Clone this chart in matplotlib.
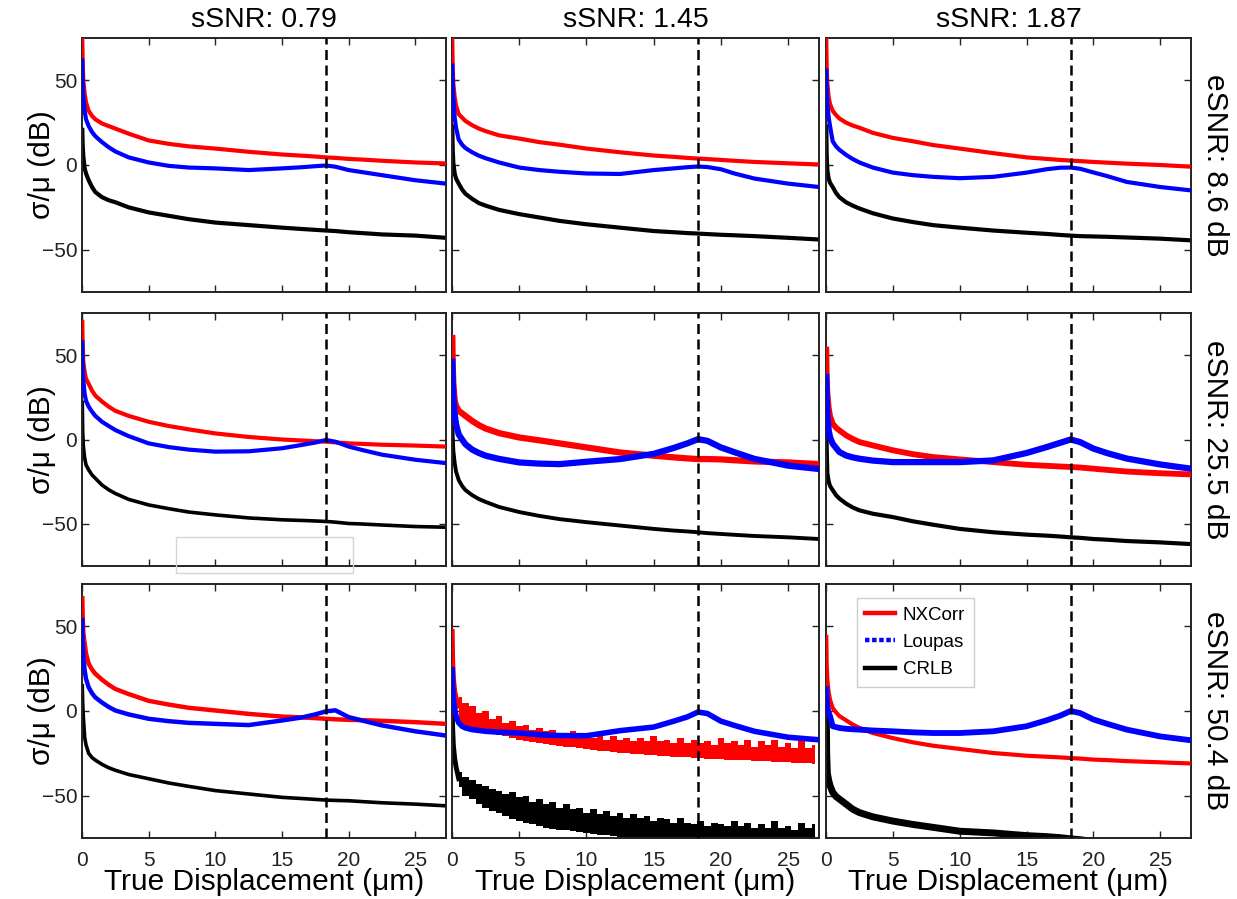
import numpy as np
import matplotlib
matplotlib.use("Agg")
import matplotlib.pyplot as plt
from matplotlib.lines import Line2D
from matplotlib.patches import Rectangle

plt.rcParams['font.family'] = ['Liberation Sans', 'DejaVu Sans']

# ---------------- data ----------------
col_titles = ["sSNR: 0.79", "sSNR: 1.45", "sSNR: 1.87"]
row_labels = ["eSNR: 8.6 dB", "eSNR: 25.5 dB", "eSNR: 50.4 dB"]
x_label = "True Displacement (\u03bcm)"
y_label = "\u03c3/\u03bc (dB)"
x_ticks = [0, 5, 10, 15, 20, 25]
y_ticks = [-50, 0, 50]
marker_x = 18.3
legend_names = ["NXCorr", "Loupas", "CRLB"]

# common displacement grid (um)
X = [0.02, 0.05, 0.1, 0.2, 0.3, 0.5, 0.75, 1, 1.5, 2, 2.5, 3.5, 5, 6.5, 8, 10, 12.5, 15,
     16.5, 17.5, 18.3, 19, 20, 21, 22.5, 25, 27.3]

# row 1 (eSNR 8.6 dB)
nx_r1c1 = [75, 60, 50, 42, 37, 32, 29, 27, 24.5, 23, 21.5, 18.5, 14.5, 12.5, 11, 9.7, 7.8, 6.2,
           5.5, 5, 4.5, 4.2, 3.6, 3.2, 2.5, 1.5, 0.9]
lo_r1c1 = [63, 50, 40, 32, 27, 23, 19.5, 17, 13.5, 10.5, 8, 4.5, 1.5, -0.5, -1.5, -2, -3, -2,
           -1.3, -0.7, -0.3, -1, -3, -4.2, -6, -9, -11]
cr_r1c1 = [22, 12, 5, -2, -5, -9, -13, -16, -19, -20.8, -22, -25, -28, -30, -32, -34, -35.5, -37,
           -37.8, -38.3, -38.7, -39, -39.7, -40.2, -41, -41.7, -43]

nx_r1c2 = [75, 58, 48, 40, 35, 30, 28, 26, 23.5, 21.5, 20, 17.5, 15.6, 13.5, 12, 9.7, 7.5, 5.6,
           4.8, 4.2, 3.8, 3.5, 3, 2.5, 1.8, 1, 0.3]
lo_r1c2 = [60, 50, 40, 28, 22, 15, 12, 10, 7.5, 5.5, 4, 1.5, -1.5, -3, -4, -5, -5.3, -3,
           -2, -1.3, -0.9, -1.2, -2.5, -5, -8, -11, -13]
cr_r1c2 = [24, 10, 1, -5, -8, -11, -14.5, -17, -20, -22.5, -24, -26.5, -29, -31, -33, -35, -37, -39,
           -39.7, -40.2, -40.5, -40.8, -41.2, -41.5, -42, -43, -44]

nx_r1c3 = [75, 58, 48, 40, 36, 32, 29.5, 27.5, 25, 23.3, 22, 19, 16, 14, 11.8, 9.7, 7, 4.5,
           3.6, 3, 2.6, 2.3, 1.8, 1.4, 0.8, 0, -1]
lo_r1c3 = [57, 46, 36, 28, 23, 14, 11, 9, 6, 3.5, 1.5, -1.5, -4.5, -6, -7, -7.8, -7, -4.5,
           -2.5, -1.6, -1.5, -2.2, -4.4, -6.5, -10, -13, -15]
cr_r1c3 = [24, 6, -3, -8, -10.5, -13, -16.5, -19, -22, -24, -25.7, -28.5, -31.6, -33.7, -35.5, -37,
           -38.7, -40, -40.7, -41.3, -41.7, -42, -42.2, -42.4, -42.8, -43.5, -44.5]

# row 2 (eSNR 25.5 dB)
nx_r2c1 = [71, 56, 46, 40, 36, 33, 29, 26, 22.5, 19.5, 17, 14, 10.5, 8, 6, 3.6, 1.5, 0,
           -0.6, -1, -1.3, -1.7, -2.3, -2.6, -3.1, -3.6, -4.2]
lo_r2c1 = [59, 45, 35, 27, 23, 19.5, 16.5, 14, 10.5, 8, 5.6, 2, -2.3, -4.5, -6, -7.2, -7, -5.2,
           -3.2, -1.8, -0.3, -1.3, -4.2, -6.2, -9, -12, -14]
cr_r2c1 = [23, 5, -4, -11, -15, -18, -21, -23, -27, -29.8, -32, -35.5, -38.8, -41, -43, -44.7, -46.5,
           -47.6, -48, -48.3, -48.6, -49, -49.8, -50.1, -50.7, -51.6, -52]

nx_r2c2 = [62, 45, 33, 23, 20, 17, 15.5, 14, 11, 8.5, 6.5, 3.8, 1.2, -0.5, -2.3, -4.7, -7.7, -9.6,
           -10.6, -11.2, -11.6, -11.6, -11.8, -12.3, -13, -13.6, -14.6]
lo_r2c2 = [48, 35, 25, 15, 9, 3, 0, -2.8, -6, -8, -9.6, -11.5, -13.6, -14.3, -14.6, -13.2, -11.6, -8.5,
           -5, -2.3, 0.2, -0.8, -4.7, -7.5, -11.5, -15.5, -17.5]
cr_r2c2 = [13, 2, -6.7, -14, -19, -24, -27.5, -30, -33, -35.3, -37, -40, -43, -45.3, -47.2, -49, -51,
           -53, -54, -54.5, -55, -55.5, -56, -56.5, -57.2, -58, -59]

nx_r2c3 = [55, 38, 28, 19, 14, 9.4, 7, 5.4, 2.5, 0.3, -1.5, -3.5, -6.4, -8.7, -10.4, -11.8, -13.4, -15,
           -15.6, -16, -16.3, -16.6, -17.3, -18, -19, -20, -20.7]
lo_r2c3 = [39, 25, 15, 5.4, 1.5, -2.5, -5, -7.4, -9.5, -10.6, -11.4, -12.5, -13.4, -13.4, -13.4, -13.4,
           -12.4, -8, -4.5, -2, 0, -1.5, -5.4, -8, -11.3, -14.8, -17.3]
cr_r2c3 = [20, -5, -20, -25, -27.5, -30, -33, -35, -38, -40.3, -42, -44, -46, -48.5, -50.5, -53, -55,
           -56.4, -57, -57.5, -58, -58.3, -59, -59.4, -60.2, -61, -62]

# row 3 (eSNR 50.4 dB)
nx_r3c1 = [68, 56, 46, 40, 34, 28, 24.5, 22, 18.5, 15.5, 13, 10, 6, 3.8, 1.9, 0.3, -1.7, -3.3,
           -3.8, -4.2, -4.6, -4.9, -5.2, -5.4, -5.8, -6.6, -7.6]
lo_r3c1 = [55, 42, 32, 24, 19, 14, 10.5, 8, 5, 2.4, 0.3, -2, -4.6, -6, -7, -7.6, -8.3, -5.6,
           -3.8, -2, -0.2, 0.4, -3.6, -5.6, -8.5, -12, -14.5]
cr_r3c1 = [16, 5, -3.6, -15.5, -20, -25, -27.5, -29, -31.5, -33.5, -35, -37.5, -40, -42.5, -44.5, -47,
           -49, -51, -51.7, -52.2, -52.6, -52.8, -53, -53.5, -54.2, -55, -56]

lo_r3c2 = [26, 15, 8, 1, -3, -7, -9, -10, -11, -11.5, -12, -12.5, -13, -14, -14.5, -14.6, -11.6, -9.5,
           -6, -3.5, -0.6, -1.5, -6, -8.5, -12, -15.5, -17]

nx_r3c3 = [45, 28, 18.5, 11, 6.7, 1.8, -0.8, -3, -5.5, -8, -10, -13, -16, -18.5, -20.5, -22.4, -24.8,
           -26.4, -27, -27.4, -27.8, -28.1, -28.7, -29, -29.6, -30.3, -31]
lo_r3c3 = [14.6, 6, 2, -1, -3, -9, -9.5, -10, -10.5, -10.8, -11, -11.5, -12, -12.6, -13, -13, -12, -9,
           -5.5, -2.8, 0, -1.2, -5, -7.5, -11, -15, -17.3]
cr_r3c3 = [3, -25, -36.6, -41, -44, -48, -50.5, -52, -55, -58, -60, -62.5, -65, -67, -68.7, -71, -72,
           -73.6, -74.2, -74.8, -75.5, -76, -77, -77.5, -78.2, -79, -80]

# row 3, column 2: jagged (quantised) NXCorr and CRLB estimates
XH = [0.02, 0.05, 0.1, 0.2, 0.3, 0.5]
nx_r3c2_head = [47, 30, 20, 12, 8, 3]
cr_r3c2_head = [-1, -10, -20, -28, -33, -40]
XJ = np.arange(0.5, 27.01, 0.5)
nx_r3c2_top = [8, 5, 3, -1, 0, -5, -3, -7, -6, -9, -8, -11, -10, -12, -11, -13, -14, -12, -15, -14,
               -16, -15, -17, -15, -17, -16, -18, -16, -18, -15, -18, -17, -19, -16, -19, -17, -19, -18,
               -20, -16, -19, -18, -20, -17, -21, -18, -20, -17, -21, -19, -22, -18, -22, -20]
nx_r3c2_bot = [-8, -9, -10, -11, -12, -13, -14, -15, -16, -17, -17.6, -18.2, -18.8, -19.4, -20, -20.5,
               -21, -21.5, -22, -22.5, -23, -23.4, -23.8, -24.2, -24.6, -25, -25.3, -25.6, -25.9, -26.2,
               -26.5, -26.8, -27, -27.2, -27.4, -27.7, -28, -28.2, -28.4, -28.6, -28.8, -29, -29.1,
               -29.2, -29.4, -29.6, -29.8, -30, -30.2, -30.4, -30.6, -30.8, -31, -31.2]
cr_r3c2_top = [-36, -39, -41, -43, -44, -46, -47, -49, -48, -51, -50, -54, -52, -55, -54, -57, -55, -58,
               -57, -60, -58, -61, -59, -62, -60, -63, -61, -63, -62, -65, -63, -64, -66, -63, -66, -67,
               -65, -68, -66, -67, -68, -65, -68, -66, -69, -67, -69, -65, -69, -68, -70, -66, -69, -67]
cr_r3c2_bot = [-45, -50, -52, -55, -57, -59, -60.5, -62, -63.5, -65, -66, -67, -68, -69, -69.5, -70,
               -70.5, -71, -71.5, -72, -72.5, -73, -73.5, -74, -75, -76, -77, -78, -80, -80, -80, -80,
               -80, -80, -80, -80, -80, -80, -80, -80, -80, -80, -80, -80, -80, -80, -80, -80, -80, -80,
               -80, -80, -80, -80]

# ---------------- figure ----------------
RED = '#ff0000'
BLUE = '#0000ff'
BLACK = '#000000'

fig = plt.figure(figsize=(12.37, 8.99), dpi=100)
W, H = 1237.0, 899.0
col_px = [(82, 446), (452, 819), (826, 1191)]
row_px = [(38, 292), (313, 566), (584, 838)]

smooth = {
    (0, 0): (nx_r1c1, lo_r1c1, cr_r1c1), (0, 1): (nx_r1c2, lo_r1c2, cr_r1c2), (0, 2): (nx_r1c3, lo_r1c3, cr_r1c3),
    (1, 0): (nx_r2c1, lo_r2c1, cr_r2c1), (1, 1): (nx_r2c2, lo_r2c2, cr_r2c2), (1, 2): (nx_r2c3, lo_r2c3, cr_r2c3),
    (2, 0): (nx_r3c1, lo_r3c1, cr_r3c1), (2, 1): (None, lo_r3c2, None), (2, 2): (nx_r3c3, lo_r3c3, cr_r3c3),
}
lw_rows = [
    {0: (3.0, 3.0, 3.0), 1: (3.0, 3.0, 3.0), 2: (3.0, 3.0, 3.0)},
    {0: (3.0, 3.0, 2.6), 1: (4.5, 4.5, 2.8), 2: (4.2, 4.5, 3.0)},
    {0: (3.2, 3.2, 2.6), 1: (3.0, 4.0, 3.0), 2: (3.0, 4.2, 5.0)},
]

axes = {}
for r in range(3):
    for c in range(3):
        x0, x1 = col_px[c]
        y0, y1 = row_px[r]
        ax = fig.add_axes([x0 / W, 1 - y1 / H, (x1 - x0) / W, (y1 - y0) / H])
        axes[(r, c)] = ax
        ax.set_xlim(0, 27.3)
        ax.set_ylim(-75, 75)
        ax.set_xticks(x_ticks)
        ax.set_yticks(y_ticks)
        ax.tick_params(direction='in', length=5, width=1.0, top=True, right=True,
                       labelsize=15, colors='#222222', pad=3.5)
        ax.tick_params(axis='x', pad=9)
        for s in ax.spines.values():
            s.set_linewidth(1.4)
            s.set_color('#222222')
        if c != 0:
            ax.set_yticklabels([])
        if r != 2:
            ax.set_xticklabels([])

        lws = lw_rows[r][c]
        nx, lo, cr = smooth[(r, c)]
        if cr is not None:
            ax.plot(X, cr, color=BLACK, lw=lws[2], solid_capstyle='butt', solid_joinstyle='round', zorder=2)
        if nx is not None:
            ax.plot(X, nx, color=RED, lw=lws[0], solid_capstyle='butt', solid_joinstyle='round', zorder=3)
        ax.plot(X, lo, color=BLUE, lw=lws[1], solid_capstyle='butt', solid_joinstyle='round', zorder=4)

        ax.axvline(marker_x, color='black', lw=1.8, ls=(0, (4, 2.2)), zorder=5)

# jagged series in row 3, column 2
ax = axes[(2, 1)]
ax.plot(XH, cr_r3c2_head, color=BLACK, lw=3.5, zorder=2)
ax.fill_between(XJ, cr_r3c2_bot, cr_r3c2_top, step='mid', color=BLACK, lw=0, zorder=2)
ax.plot(XH, nx_r3c2_head, color=RED, lw=3.5, zorder=3)
ax.fill_between(XJ, nx_r3c2_bot, nx_r3c2_top, step='mid', color=RED, lw=0, zorder=3)

# legend in the last panel
ax = axes[(2, 2)]
handles = [Line2D([], [], color=RED, lw=3.2),
           Line2D([], [], color=BLUE, lw=3.2, ls=(0, (1, 0.6))),
           Line2D([], [], color=BLACK, lw=3.2)]
leg = ax.legend(handles, legend_names, loc='upper left', bbox_to_anchor=(0.085, 0.945),
                borderaxespad=0, fontsize=13.5, handlelength=1.6, handletextpad=0.4,
                labelspacing=0.55, borderpad=0.45, fancybox=False, framealpha=1)
leg.get_frame().set_edgecolor('#cccccc')
leg.get_frame().set_linewidth(1.0)
leg.set_zorder(10)

# column titles, row labels, axis labels
for c in range(3):
    xc = (col_px[c][0] + col_px[c][1]) / 2 / W
    fig.text(xc, 1 - 20 / H, col_titles[c], ha='center', va='center', fontsize=20.5)
    fig.text(xc, 1 - 882 / H, x_label, ha='center', va='center', fontsize=21.5)
for r in range(3):
    yc = 1 - (row_px[r][0] + row_px[r][1]) / 2 / H
    fig.text(1215 / W, yc, row_labels[r], rotation=270, ha='center', va='center', fontsize=21.5)
    fig.text(42 / W, yc, y_label, rotation=90, ha='center', va='center', fontsize=21.5)

# faint grey box artefact present in the source figure
fig.patches.append(Rectangle((176 / W, 1 - 573 / H), (353 - 176) / W, (573 - 537) / H,
                             transform=fig.transFigure, fill=False, edgecolor='#d5d5d5', lw=1.0))

fig.savefig('out.png', dpi=100, facecolor='white')
